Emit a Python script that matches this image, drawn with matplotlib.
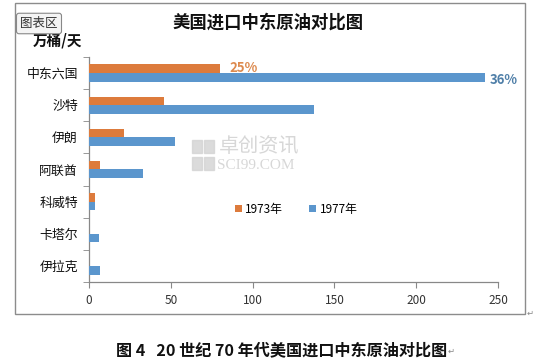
import matplotlib
matplotlib.use("Agg")
import matplotlib.pyplot as plt
from matplotlib.patches import Rectangle
import numpy as np

plt.rcParams['font.family'] = ['Noto Sans CJK SC', 'DejaVu Sans']

categories = ["中东六国", "沙特", "伊朗", "阿联酋", "科威特", "卡塔尔", "伊拉克"]
v1973 = [80, 46, 21.5, 6.7, 3.7, 0, 0]
v1977 = [242, 137.5, 52.5, 33, 3.7, 6, 6.7]
series_names = ["1973年", "1977年"]
xticks = [0, 50, 100, 150, 200, 250]
share_1973 = "25%"
share_1977 = "36%"

c73 = "#DD7B3C"
c77 = "#5B96CD"

W, H = 540, 363
fig = plt.figure(figsize=(W/100, H/100), dpi=100)

def fx(px): return px / W
def fy(py): return 1 - py / H

# outer chart frame
fig.patches.append(Rectangle((fx(15), fy(314)), fx(525) - fx(15), fy(3) - fy(314),
                             transform=fig.transFigure, fill=False, ec="#8c8c8c", lw=1.0))

ax = fig.add_axes([fx(89), fy(282), fx(498) - fx(89), fy(57) - fy(282)])
y = np.arange(len(categories))
h = 0.27
ax.barh(y - 0.135, v1973, height=h, color=c73, label=series_names[0], zorder=3)
ax.barh(y + 0.135, v1977, height=h, color=c77, label=series_names[1], zorder=3)

ax.set_xlim(0, 250)
ax.set_ylim(len(categories) - 0.5, -0.5)
ax.set_xticks(xticks)
ax.set_xticklabels([str(t) for t in xticks], fontsize=8.5, color="#333333")
ax.set_yticks(y)
ax.set_yticklabels(categories, fontsize=9.3, color="#111111")
ax.set_yticks(np.arange(-0.5, len(categories), 1), minor=True)
ax.tick_params(axis='y', which='major', length=0, pad=8)
ax.tick_params(axis='y', which='minor', length=4, color="#888888", direction='out')
ax.tick_params(axis='x', length=4, color="#888888", direction='out', pad=5)
for s in ['top', 'right']:
    ax.spines[s].set_visible(False)
for s in ['left', 'bottom']:
    ax.spines[s].set_color("#888888")
    ax.spines[s].set_linewidth(0.9)

ax.text(v1973[0] + 6, 0 - 0.17, share_1973, color="#DD8A4E", fontsize=9.5, fontweight='bold',
        va='center', ha='left')
ax.text(v1977[0] + 3, 0 + 0.2, share_1977, color="#4F7FA8", fontsize=9.5, fontweight='bold',
        va='center', ha='left')

leg = ax.legend(loc='center', bbox_to_anchor=((296 - 89) / (498 - 89), (282 - 209) / (282 - 57)),
                ncol=2, frameon=False, fontsize=8.5, handlelength=0.6, handleheight=0.6,
                columnspacing=2.2, handletextpad=0.3)

# watermark
wm = "#d3d3d3"
for (px, py) in [(192, 140), (204, 140), (192, 157), (204, 157)]:
    fig.patches.append(Rectangle((fx(px), fy(py + 13)), fx(10), fy(py) - fy(py + 13),
                                 transform=fig.transFigure, color=wm, alpha=0.8))
fig.text(fx(219), fy(147), "卓创资讯", fontsize=14.5, color=wm, ha='left', va='center', alpha=0.9)
fig.text(fx(217), fy(166), "SCI99.COM", fontsize=11, color=wm, ha='left', va='center',
         family=['Liberation Serif'], alpha=0.9)

# titles
fig.text(fx(268), fy(23), "美国进口中东原油对比图", fontsize=12.5, fontweight='bold',
         ha='center', va='center', color="#111111")
fig.text(fx(57), fy(41), "万桶/天", fontsize=10.5, fontweight='bold', ha='center', va='center',
         color="#111111")

# "图表区" tooltip
fig.text(fx(39), fy(23.5), "图表区", fontsize=9, ha='center', va='center', color="#333333",
         bbox=dict(boxstyle="round,pad=0.3,rounding_size=0.2", fc="#f4f4f4", ec="#888888", lw=0.8))

# caption
fig.text(fx(282), fy(350), "图 4   20 世纪 70 年代美国进口中东原油对比图", fontsize=11.6,
         fontweight='bold', ha='center', va='center', color="#111111")
fig.text(fx(530), fy(313), "↵", fontsize=6, color="#888888", ha='center', va='center',
         family=['DejaVu Sans'])
fig.text(fx(451), fy(351), "↵", fontsize=6, color="#888888", ha='center', va='center',
         family=['DejaVu Sans'])

fig.savefig("out.png", dpi=100, facecolor="white")
